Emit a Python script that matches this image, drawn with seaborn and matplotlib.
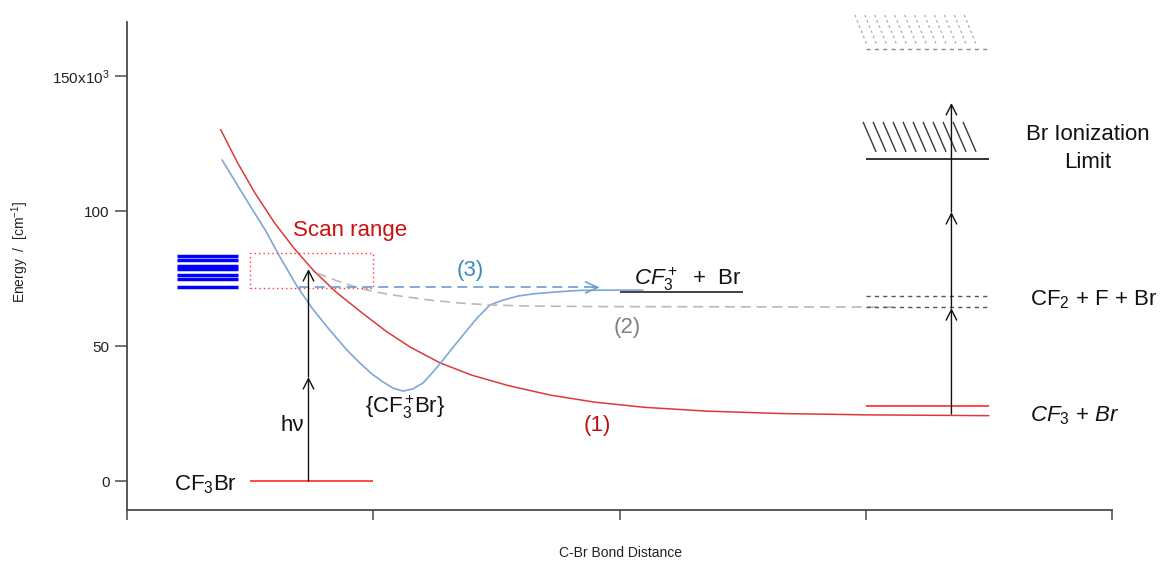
import numpy as np
import matplotlib
matplotlib.use("Agg")
import matplotlib.pyplot as plt
from matplotlib.collections import LineCollection
import seaborn as sns

# ---------------------------------------------------------------- data
# repulsive CF3 + Br curve (1)
red_x = [0.38, 0.45, 0.52, 0.60, 0.68, 0.76, 0.85, 0.95, 1.05, 1.15, 1.27,
         1.40, 1.55, 1.72, 1.90, 2.10, 2.35, 2.65, 3.00, 3.50]
red_y = [130.2, 117.7, 106.6, 95.5, 86.0, 77.7, 69.9, 62.6, 55.6, 49.6, 43.8,
         39.2, 35.3, 31.8, 29.2, 27.3, 25.9, 25.0, 24.5, 24.2]

# bound ion-pair curve {CF3+Br-} leading to CF3+ + Br (blue)
blue_x = [0.386, 0.443, 0.500, 0.561, 0.621, 0.690, 0.751, 0.816, 0.893,
          0.946, 0.995, 1.040, 1.080, 1.121, 1.161, 1.202, 1.243, 1.283,
          1.332, 1.381, 1.425, 1.474, 1.527, 1.588, 1.649, 1.738, 1.840,
          1.961, 2.095]
blue_y = [118.9, 110.4, 101.9, 93.0, 83.0, 72.2, 64.1, 56.7, 48.5,
          43.7, 39.6, 36.7, 34.4, 33.3, 34.1, 36.3, 40.4, 44.8,
          50.4, 55.9, 60.7, 65.2, 67.0, 68.5, 69.3, 70.0, 70.6,
          70.7, 70.7]

# dissociation pathway (2) towards CF2 + F + Br
grey_x = [0.772, 0.845, 0.926, 1.007, 1.109, 1.230, 1.352, 1.474, 1.636,
          1.921, 3.127]
grey_y = [77.0, 74.4, 71.9, 70.0, 68.5, 67.0, 65.9, 65.2, 64.8, 64.6, 64.4]

# pathway (3) towards CF3+ + Br
path3_x = [0.70, 1.92]
path3_y = [71.7, 71.7]

# Rydberg / excited manifold at the excitation energy
manifold_y = [83.33, 81.67, 79.81, 78.70, 76.48, 74.81, 71.67]
manifold_x = (0.203, 0.451)

# scan range box
scan_x = (0.50, 1.00)
scan_y = (71.5, 84.4)

# asymptotic energy levels
ground_level = 0.0
ion_pair_level = 70.0
cf3_br_levels = [24.2, 27.8]
cf2_f_br_levels = [64.6, 68.5]
br_ion_limit = 119.2
upper_limit = 160.0

# photon excitation and multiphoton ladder
hv_x = 0.737
hv_steps = [0.0, 38.5, 78.5]
ladder_x = 3.348
ladder_steps = [24.8, 64.0, 99.6, 140.0]

y_ticks = [0, 50, 100, 150]
y_tick_labels = ["0", "50", "100", "150x10$^3$"]
x_ticks = [0, 1, 2, 3, 4]

# ---------------------------------------------------------------- style
sns.set_style("ticks")
plt.rcParams["font.family"] = ["Liberation Sans", "DejaVu Sans"]
plt.rcParams["mathtext.fontset"] = "custom"
plt.rcParams["mathtext.rm"] = "Liberation Sans"
plt.rcParams["mathtext.it"] = "Liberation Sans:italic"
plt.rcParams["mathtext.bf"] = "Liberation Sans:bold"

RED = "#dc3a3a"
RED_LEVEL = "#ff2a2a"
BLUE = "#7ea6d8"
BLUE_D = "#6d9bd3"
GREY = "#b9b9b9"
AX_COL = "#4a4a4a"

fig = plt.figure(figsize=(11.61, 5.63), dpi=100)
ax = fig.add_axes([127 / 1161, 1 - 510 / 563, 985 / 1161, 488 / 563])

# ---------------------------------------------------------------- curves
sns.lineplot(x=red_x, y=red_y, ax=ax, color=RED, lw=1.1)
sns.lineplot(x=blue_x, y=blue_y, ax=ax, color=BLUE, lw=1.2)
sns.lineplot(x=grey_x, y=grey_y, ax=ax, color=GREY, lw=1.2, dashes=(6, 3.5))
sns.lineplot(x=path3_x, y=path3_y, ax=ax, color=BLUE_D, lw=1.2, dashes=(6, 3.5))
ax.annotate("", xy=(path3_x[1], path3_y[1]), xytext=(path3_x[1] - 0.03, path3_y[1]),
            arrowprops=dict(arrowstyle="->,head_length=0.9,head_width=0.4",
                            color=BLUE_D, lw=1.1, shrinkA=0, shrinkB=0))

# manifold of states
ax.hlines(manifold_y, *manifold_x, color="#0000ff", lw=2.5)

# scan range box
ax.plot([scan_x[0], scan_x[1], scan_x[1], scan_x[0], scan_x[0]],
        [scan_y[0], scan_y[0], scan_y[1], scan_y[1], scan_y[0]],
        color="#ff3a3a", lw=1.0, ls=(0, (1, 2.2)))

# levels
ax.hlines(ground_level, 0.50, 1.00, color=RED_LEVEL, lw=1.2)
ax.hlines(ion_pair_level, 2.00, 2.50, color="#222222", lw=1.2)
ax.hlines(cf3_br_levels[1], 3.00, 3.50, color=RED_LEVEL, lw=1.2)
ax.hlines(cf2_f_br_levels, 3.00, 3.50, color="#555555", lw=1.0, ls=(0, (3, 3)))
ax.hlines(br_ion_limit, 3.00, 3.50, color="#111111", lw=1.2)
ax.hlines(upper_limit, 3.00, 3.50, color="#8a8a8a", lw=1.0, ls=(0, (3, 3)),
          clip_on=False)

# hatching above the Br ionization limit
tops = np.linspace(2.989, 3.395, 11)
segs = [[(t, 133.0), (t + 0.053, 121.9)] for t in tops]
ax.add_collection(LineCollection(segs, colors="#3a3a3a", linewidths=1.0))

tops_hi = np.linspace(2.956, 3.40, 12)
segs_hi = [[(t, 172.6), (t + 0.049, 161.5)] for t in tops_hi]
ax.add_collection(LineCollection(segs_hi, colors="#aaaaaa", linewidths=0.9,
                                 linestyles=[(0, (2, 2.5))], clip_on=False))

# arrows with open chevrons
def ladder(x, steps):
    for y0, y1 in zip(steps[:-1], steps[1:]):
        ax.annotate("", xy=(x, y1), xytext=(x, y0),
                    arrowprops=dict(arrowstyle="->,head_length=0.75,head_width=0.38",
                                    color="#111111", lw=1.0, shrinkA=0, shrinkB=0))

ladder(hv_x, hv_steps)
ladder(ladder_x, ladder_steps)

# ---------------------------------------------------------------- labels
fs = 16
ax.text(0.906, 90.7, "Scan range", color="#cc1010", fontsize=fs, ha="center", va="baseline")
ax.text(1.393, 78.1, "(3)", color="#3a8cb8", fontsize=fs, ha="center", va="center")
ax.text(2.276, 72.6, r"$\mathit{CF_3^+}$  +  Br", color="#111111", fontsize=fs,
        ha="center", va="baseline")
ax.text(2.03, 56.7, "(2)", color="#808080", fontsize=fs, ha="center", va="center")
ax.text(1.129, 25.2, "{" + r"$\mathrm{CF_3^+\!Br}$" + "}", color="#111111", fontsize=fs,
        ha="center", va="baseline")
ax.text(0.67, 18.5, "hν", color="#111111", fontsize=fs, ha="center", va="baseline")
ax.text(1.909, 20.7, "(1)", color="#c01010", fontsize=fs, ha="center", va="center")
ax.text(0.32, -3.3, r"$\mathrm{CF_3Br}$", color="#111111", fontsize=fs, ha="center", va="baseline")
ax.text(3.90, 126.3, "Br Ionization", color="#111111", fontsize=fs, ha="center", va="baseline")
ax.text(3.90, 115.9, "Limit", color="#111111", fontsize=fs, ha="center", va="baseline")
ax.text(3.925, 65.2, r"CF$_2$ + F + Br", color="#111111", fontsize=fs, ha="center", va="baseline")
ax.text(3.85, 22.0, r"$\mathit{CF_3}$ + $\mathit{Br}$", color="#111111", fontsize=fs,
        ha="center", va="baseline")

# ---------------------------------------------------------------- axes
ax.set_xlim(0, 4)
ax.set_ylim(-10.74, 170)
ax.set_xticks(x_ticks)
ax.set_yticks(y_ticks)
ax.set_yticklabels(y_tick_labels)
ax.tick_params(axis="x", labelbottom=False, direction="out", length=7, width=1.1, color=AX_COL)
ax.tick_params(axis="y", direction="out", length=8.5, width=1.1, color=AX_COL,
               labelsize=11, labelcolor="#222222", pad=4)
sns.despine(ax=ax)
for side in ("left", "bottom"):
    ax.spines[side].set_color(AX_COL)
    ax.spines[side].set_linewidth(1.3)

ax.set_ylabel("Energy  /  [cm$^{-1}$]", fontsize=10, color="#222222")
ax.yaxis.set_label_coords((20 - 127) / 985, (510 - 252) / 488)
ax.yaxis.label.set_va("center")
ax.set_xlabel("C-Br Bond Distance", fontsize=10, color="#222222")
ax.xaxis.set_label_coords((620 - 127) / 985, (510 - 553) / 488)
ax.xaxis.label.set_va("center")

fig.savefig("out.png", dpi=100)
